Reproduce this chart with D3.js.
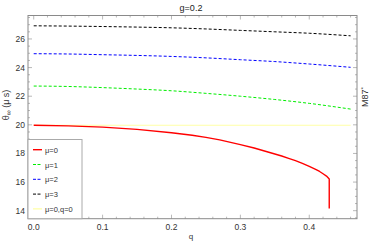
<!DOCTYPE html>
<html><head><meta charset="utf-8">
<script src="https://cdn.jsdelivr.net/npm/d3@7"></script>
<style>body{margin:0;background:#fff}svg{display:block;font-family:"Liberation Sans",Arial,sans-serif}</style>
</head><body><svg id="c" width="374" height="244"></svg>
<script>
const title = "g=0.2";
const xTicks = [0, 0.1, 0.2, 0.3, 0.4];
const yTicks = [14, 16, 18, 20, 22, 24, 26];
const qDash = [0, 0.05, 0.1, 0.15, 0.2, 0.25, 0.3, 0.35, 0.4, 0.46];
const mu1 = [22.71, 22.68, 22.6, 22.5, 22.38, 22.2, 22.0, 21.77, 21.5, 21.1];
const mu2 = [24.97, 24.95, 24.9, 24.85, 24.78, 24.68, 24.55, 24.42, 24.25, 24.02];
const mu3 = [26.92, 26.9, 26.87, 26.83, 26.78, 26.7, 26.6, 26.5, 26.4, 26.22];
const qRed = [0, 0.05, 0.1, 0.15, 0.2, 0.23, 0.25, 0.27, 0.3, 0.32, 0.34, 0.36, 0.37, 0.38, 0.39, 0.4, 0.41, 0.415, 0.42, 0.425, 0.429, 0.429];
const mu0 = [19.97, 19.93, 19.84, 19.68, 19.45, 19.27, 19.12, 18.95, 18.62, 18.38, 18.1, 17.82, 17.66, 17.5, 17.31, 17.1, 16.87, 16.74, 16.58, 16.42, 16.22, 14.15];
const refQ = [0, 0.46];
const refVal = [19.97, 19.97];
const legendLabels = ["μ=0", "μ=1", "μ=2", "μ=3", "μ=0,q=0"];
const colors = ["#ff0000", "#00ee00", "#0000ff", "#000000", "#ffff90"];

const svg = d3.select("#c");
const L = 28, R = 357, T = 15.5, B = 218.7;
const x = d3.scaleLinear().domain([-0.0083, 0.4693]).range([L, R]);
const y = d3.scaleLinear().domain([13.44, 27.64]).range([B, T]);

const frameCol = "#8a8a8a";
svg.append("text").attr("x", 191).attr("y", 11).attr("text-anchor", "middle")
  .attr("font-size", 9).attr("fill", "#222").text(title);

svg.append("rect").attr("x", L).attr("y", T).attr("width", R - L).attr("height", B - T)
  .attr("fill", "none").attr("stroke", frameCol).attr("stroke-width", 1);

const g = svg.append("g").attr("stroke", frameCol).attr("stroke-width", 0.6);
const xMinor = d3.range(0, 0.4601, 0.02);
xMinor.forEach(v => {
  const major = xTicks.some(t => Math.abs(t - v) < 1e-6);
  const len = major ? 4 : 2;
  const px = x(v);
  g.append("line").attr("x1", px).attr("x2", px).attr("y1", B).attr("y2", B - len);
  g.append("line").attr("x1", px).attr("x2", px).attr("y1", T).attr("y2", T + len);
});
const yMinor = d3.range(13.5, 27.51, 0.5);
yMinor.forEach(v => {
  const major = yTicks.some(t => Math.abs(t - v) < 1e-6);
  const len = major ? 4 : 2;
  const py = y(v);
  g.append("line").attr("x1", L).attr("x2", L + len).attr("y1", py).attr("y2", py);
  g.append("line").attr("x1", R).attr("x2", R - len).attr("y1", py).attr("y2", py);
});
xTicks.forEach(v => svg.append("text").attr("x", x(v)).attr("y", B + 11).attr("text-anchor", "middle")
  .attr("font-size", 8.5).attr("fill", "#333").text(v.toFixed(1)));
yTicks.forEach(v => svg.append("text").attr("x", L - 3).attr("y", y(v) + 3).attr("text-anchor", "end")
  .attr("font-size", 8.5).attr("fill", "#333").text(v));

svg.append("text").attr("x", 191).attr("y", 239).attr("text-anchor", "middle")
  .attr("font-size", 8).attr("fill", "#333").text("q");
svg.append("text").attr("transform", "translate(9,105) rotate(-90)").attr("text-anchor", "middle")
  .attr("font-size", 9).attr("fill", "#333")
  .html("θ<tspan dy='2' font-size='7'>∞</tspan><tspan dy='-2'> (μ s)</tspan>");
svg.append("text").attr("transform", "translate(368,97) rotate(-90)").attr("text-anchor", "middle")
  .attr("font-size", 9).attr("fill", "#333").html("M87<tspan dy='-3' font-size='6'>*</tspan>");

const line = d3.line().x(d => x(d[0])).y(d => y(d[1]));
const plot = svg.append("g");
plot.append("path").datum(refQ.map((q, i) => [q, refVal[i]])).attr("d", line)
  .attr("fill", "none").attr("stroke", colors[4]).attr("stroke-width", 0.8);
[[mu1, colors[1]], [mu2, colors[2]], [mu3, colors[3]]].forEach(([vals, c]) => {
  plot.append("path").datum(qDash.map((q, i) => [q, vals[i]]))
    .attr("d", line.curve(d3.curveMonotoneX)).attr("fill", "none").attr("stroke", c)
    .attr("stroke-width", 1).attr("stroke-dasharray", "3,2");
});
plot.append("path").datum(qRed.map((q, i) => [q, mu0[i]]))
  .attr("d", d3.line().x(d => x(d[0])).y(d => y(d[1])).curve(d3.curveLinear))
  .attr("fill", "none").attr("stroke", colors[0]).attr("stroke-width", 1.4)
  .attr("stroke-linejoin", "round");

const lg = svg.append("g");
lg.append("rect").attr("x", L).attr("y", 139.5).attr("width", 54).attr("height", B - 139.5)
  .attr("fill", "#fff").attr("stroke", "#aaa").attr("stroke-width", 1);
legendLabels.forEach((lab, i) => {
  const yy = 149.7 + i * 14.8;
  lg.append("line").attr("x1", 33).attr("x2", 42).attr("y1", yy).attr("y2", yy)
    .attr("stroke", colors[i]).attr("stroke-width", i === 0 ? 1.4 : 1)
    .attr("stroke-dasharray", (i >= 1 && i <= 3) ? "3,1.5" : null);
  lg.append("text").attr("x", 45).attr("y", yy + 3).attr("font-size", 7.5).attr("fill", "#333").text(lab);
});
</script></body></html>
